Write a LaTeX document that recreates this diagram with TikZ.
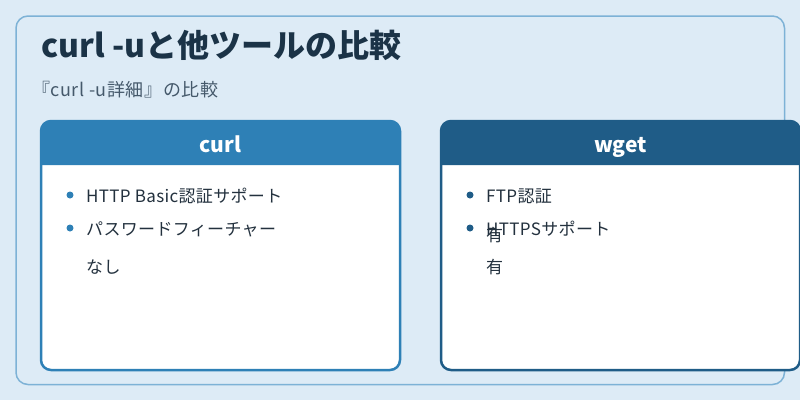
\documentclass[tikz,border=0pt]{standalone}
\usepackage{fontspec}
\setmainfont{Noto Sans CJK JP}
\usetikzlibrary{positioning}
\definecolor{pagebg}{HTML}{DDEBF6}
\definecolor{frameblue}{HTML}{7DB2D6}
\definecolor{curlblue}{HTML}{2E80B6}
\definecolor{wgetblue}{HTML}{1F5C87}
\definecolor{titleink}{HTML}{1B3347}
\definecolor{subink}{HTML}{45596B}
\definecolor{itemink}{HTML}{23313E}

\tikzset{
  card/.style={draw=#1, line width=2.5pt, rounded corners=10pt},
  cardhead/.style={font=\fontsize{21}{25}\selectfont\bfseries, text=white, anchor=base},
  item/.style={font=\fontsize{17}{20}\selectfont\addfontfeatures{LetterSpace=2}, text=itemink, anchor=base west, inner sep=0pt},
  bulletdot/.style={circle, fill=#1, inner sep=0pt, minimum size=7pt},
}

\begin{document}
\begin{tikzpicture}[x=1pt, y=-1pt]
  \useasboundingbox (0,0) rectangle (800,400);
  \fill[pagebg] (0,0) rectangle (800,400);
  % outer frame
  \draw[frameblue, line width=1.5pt, rounded corners=12pt] (16,16) rectangle (784.5,384.5);

  \node[font=\fontsize{32}{36}\selectfont\bfseries, text=titleink, anchor=base west, inner sep=0pt] (title) at (41,57) {curl -uと他ツールの比較};
  \node[font=\fontsize{18}{22}\selectfont\addfontfeatures{LetterSpace=3}, text=subink, anchor=base west, inner sep=0pt] (subtitle) at (32,96) {『curl -u詳細』の比較};

  % curl card
  \fill[white, rounded corners=10pt] (41,121) rectangle (400,370);
  \fill[curlblue, rounded corners=10pt] (41,165) [sharp corners] -- (41,165) [rounded corners=10pt] -- (41,121) -- (400,121) [sharp corners] -- (400,165) -- cycle;
  \draw[card=curlblue] (41,121) rectangle (400,370);
  \node[cardhead] (curlhead) at (220.5,152) {curl};
  \node[bulletdot=curlblue] (cdot1) at (70,195) {};
  \node[item] (citem1) at (86,202) {HTTP Basic認証サポート};
  \node[bulletdot=curlblue] (cdot2) at (70,228) {};
  \node[item] (citem2) at (86,235.5) {パスワードフィーチャー};
  \node[item] (cnote) at (86,273) {なし};

  % wget card
  \fill[white, rounded corners=10pt] (441,121) rectangle (800,370);
  \fill[wgetblue, rounded corners=10pt] (441,165) [sharp corners] -- (441,165) [rounded corners=10pt] -- (441,121) -- (800,121) [sharp corners] -- (800,165) -- cycle;
  \draw[card=wgetblue] (441,121) rectangle (800,370);
  \node[cardhead] (wgethead) at (620.5,152) {wget};
  \node[bulletdot=wgetblue] (wdot1) at (470,195) {};
  \node[item] (witem1) at (486,202) {FTP認証};
  \node[bulletdot=wgetblue] (wdot2) at (470,228) {};
  \node[item] (witem2) at (486,235.5) {HTTPSサポート};
  \node[item] (wnote1) at (486,241) {有};
  \node[item] (wnote2) at (486,273) {有};
\end{tikzpicture}
\end{document}
